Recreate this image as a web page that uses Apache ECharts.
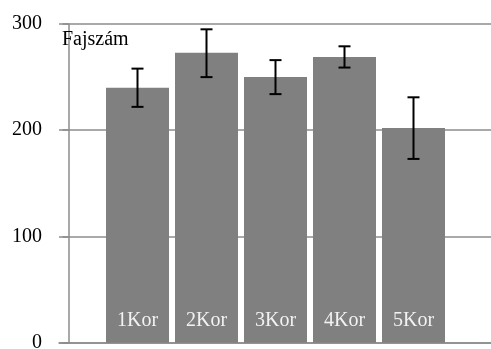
<!DOCTYPE html>
<html><head><meta charset="utf-8">
<script src="https://cdn.jsdelivr.net/npm/echarts@6/dist/echarts.min.js"></script>
<style>html,body{margin:0;padding:0;background:#fff}#c{width:491px;height:349px}</style>
</head><body><div id="c"></div>
<script>
const categories = ['1Kor','2Kor','3Kor','4Kor','5Kor'];
const values = [240, 273, 250, 269, 202];
const errLow = [222, 250, 234, 259, 173];
const errHigh = [258, 295, 266, 279, 231];
const yTicks = [0, 100, 200, 300];
const yTitle = 'Fajszám';

const font = '"Liberation Serif", "Times New Roman", serif';
const barData = values.map((v, i) => [i + 1, v]);
const errData = values.map((v, i) => [i + 1, errLow[i], errHigh[i]]);

const chart = echarts.init(document.getElementById('c'), null, {renderer: 'canvas'});
chart.setOption({
  animation: false,
  backgroundColor: '#fff',
  title: {text: yTitle, left: 62, top: 30, padding: 0, textStyle: {fontFamily: font, fontSize: 20, fontWeight: 'normal', color: '#000'}},
  grid: {left: 59, right: 0, top: 24, bottom: 6.3, containLabel: false, outerBoundsMode: 'none'},
  xAxis: {type: 'value', min: 1 - 78.5 / 69, max: 1 - 78.5 / 69 + 432 / 69, show: true,
    axisLine: {show: true, onZero: false, lineStyle: {color: '#8c8c8c', width: 1.5}},
    axisTick: {show: false}, axisLabel: {show: false}, splitLine: {show: false}},
  yAxis: {type: 'value', min: yTicks[0], max: yTicks[yTicks.length - 1], interval: 100,
    axisLine: {show: true, lineStyle: {color: '#8c8c8c', width: 1.5}},
    axisTick: {show: true, length: 6, lineStyle: {color: '#8c8c8c', width: 1.5}},
    axisLabel: {margin: 17, fontFamily: font, fontSize: 20, color: '#000'},
    splitLine: {show: true, lineStyle: {color: '#8c8c8c', width: 1.5}}},
  series: [
    {type: 'bar', data: barData, barWidth: 63, itemStyle: {color: '#808080'},
      label: {show: true, position: 'insideBottom', distance: 12, fontFamily: font, fontSize: 20, color: '#f2f2f2',
        formatter: p => categories[p.dataIndex]}},
    {type: 'custom', data: errData, z: 10,
      renderItem: function (params, api) {
        const x = api.value(0);
        const lo = api.coord([x, api.value(1)]);
        const hi = api.coord([x, api.value(2)]);
        const hw = 6;
        const style = {stroke: '#000', lineWidth: 2};
        return {type: 'group', children: [
          {type: 'line', shape: {x1: lo[0], y1: lo[1], x2: hi[0], y2: hi[1]}, style},
          {type: 'line', shape: {x1: lo[0] - hw, y1: lo[1], x2: lo[0] + hw, y2: lo[1]}, style},
          {type: 'line', shape: {x1: hi[0] - hw, y1: hi[1], x2: hi[0] + hw, y2: hi[1]}, style}
        ]};
      }}
  ]
});
</script></body></html>
